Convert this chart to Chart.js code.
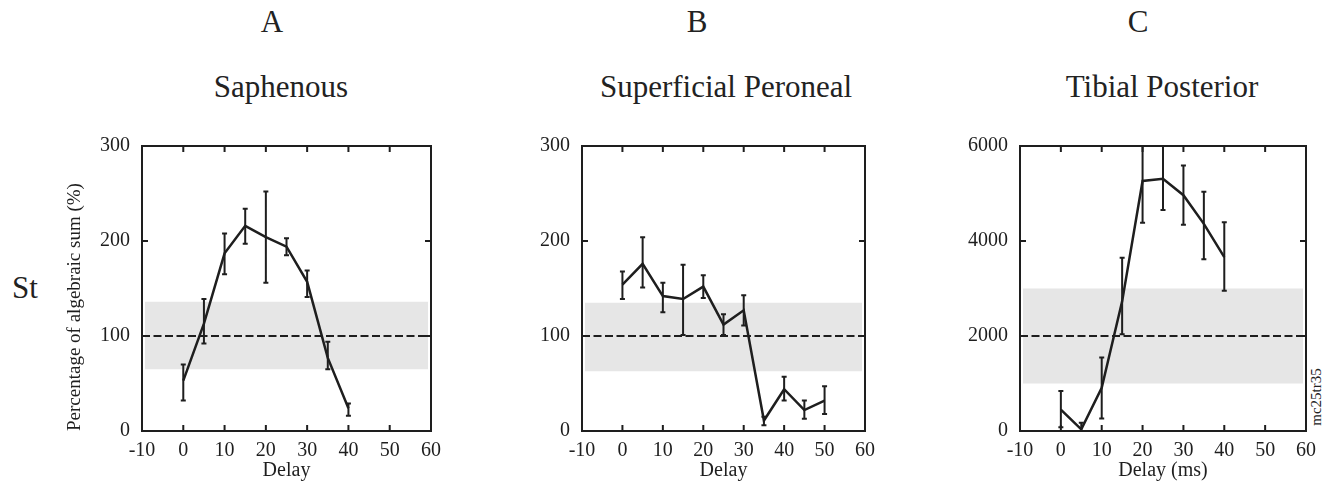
<!DOCTYPE html>
<html>
<head>
<meta charset="utf-8">
<script src="https://cdn.jsdelivr.net/npm/chart.js@4.4.1/dist/chart.umd.min.js"></script>
<style>
  body { margin: 0; background: #fff; }
  #page { position: relative; width: 1339px; height: 489px; overflow: hidden;
          font-family: "Liberation Serif", "Times New Roman", serif; color: #222; }
  canvas { position: absolute; top: 130px; }
  .lbl { position: absolute; font-size: 31px; line-height: 31px; white-space: nowrap; transform: translateX(-50%); }
  #tag { position: absolute; left: 1316px; top: 397px; font-size: 15px; line-height: 15px; white-space: nowrap;
         transform: translate(-50%, -50%) rotate(-90deg); }
</style>
</head>
<body>
<div id="page">
  <div class="lbl" style="left:272px; top:6px">A</div>
  <div class="lbl" style="left:697px; top:6px">B</div>
  <div class="lbl" style="left:1138px; top:6px">C</div>
  <div class="lbl" style="left:281px; top:71px">Saphenous</div>
  <div class="lbl" style="left:726px; top:71px">Superficial Peroneal</div>
  <div class="lbl" style="left:1162px; top:71px">Tibial Posterior</div>
  <div class="lbl" style="left:12px; top:272px; transform:none">St</div>
  <div id="tag">mc25tr35</div>

  <canvas id="chartA" width="400" height="359" style="left:60px"></canvas>
  <canvas id="chartB" width="400" height="359" style="left:500px"></canvas>
  <canvas id="chartC" width="401" height="359" style="left:938px"></canvas>
</div>

<script>
// delays (ms)
const delaysA = [0, 5, 10, 15, 20, 25, 30, 35, 40];
const delaysB = [0, 5, 10, 15, 20, 25, 30, 35, 40, 45, 50];
const delaysC = [0, 5, 10, 15, 20, 25, 30, 35, 40];

// A - Saphenous
const saphMean = [53, 113, 187, 216, 204, 194, 157, 77, 24];
const saphLow  = [32, 92, 165, 197, 156, 185, 141, 65, 16];
const saphHigh = [70, 139, 208, 234, 252, 203, 169, 94, 29];
const saphBand = [65, 136];

// B - Superficial Peroneal
const supMean = [154, 176, 142, 139, 152, 112, 127, 11, 44, 22, 32];
const supLow  = [139, 151, 125, 101, 140, 101, 111, 6, 32, 13, 18];
const supHigh = [168, 204, 156, 175, 164, 123, 143, 15, 57, 32, 47];
const supBand = [63, 135];

// C - Tibial Posterior
const tibMean = [452, 35, 910, 2729, 5264, 5312, 4965, 4361, 3660];
const tibLow  = [77, 0, 264, 2035, 4382, 4653, 4340, 3618, 2951];
const tibHigh = [840, 174, 1548, 3646, 6300, 6300, 5590, 5035, 4396];
const tibBand = [1000, 3000];

const bandSpan = [-9.3, 59.3];
const xTicks = [-10, 60, 10];

const INK = "#1e1e1e";
const FONT = "'Liberation Serif', 'Times New Roman', serif";

// error bars + box frame with inward ticks
const framePlugin = {
  id: "frame",
  afterDatasetsDraw(chart, args, opts) {
    const { ctx, chartArea: a, scales: { x, y } } = chart;

    ctx.save();
    ctx.beginPath();
    ctx.rect(a.left, a.top, a.width, a.height);
    ctx.clip();
    ctx.strokeStyle = INK;
    ctx.lineWidth = 2;
    ctx.beginPath();
    opts.delays.forEach((d, i) => {
      const px = x.getPixelForValue(d);
      const lo = y.getPixelForValue(opts.low[i]);
      const hi = y.getPixelForValue(opts.high[i]);
      ctx.moveTo(px, lo); ctx.lineTo(px, hi);
      ctx.moveTo(px - 2.5, lo); ctx.lineTo(px + 2.5, lo);
      ctx.moveTo(px - 2.5, hi); ctx.lineTo(px + 2.5, hi);
    });
    ctx.stroke();
    ctx.restore();

    ctx.save();
    ctx.strokeStyle = INK;
    ctx.lineWidth = 2;
    ctx.strokeRect(a.left, a.top, a.width, a.height);
    ctx.beginPath();
    x.ticks.forEach((t) => {
      if (t.value <= x.min || t.value >= x.max) return;
      const px = x.getPixelForValue(t.value);
      ctx.moveTo(px, a.bottom); ctx.lineTo(px, a.bottom - 6);
      ctx.moveTo(px, a.top); ctx.lineTo(px, a.top + 6);
    });
    y.ticks.forEach((t) => {
      if (t.value <= y.min || t.value >= y.max) return;
      const py = y.getPixelForValue(t.value);
      ctx.moveTo(a.left, py); ctx.lineTo(a.left + 6, py);
      ctx.moveTo(a.right, py); ctx.lineTo(a.right - 6, py);
    });
    ctx.stroke();
    ctx.restore();
  }
};

function makePanel(id, p) {
  const pts = p.delays.map((d, i) => ({ x: d, y: p.mean[i] }));
  const ref = bandSpan.map((v) => ({ x: v < 0 ? xTicks[0] : xTicks[1], y: p.refLine }));
  const band = bandSpan.map((v) => ({ x: v, y: p.band[1] }));

  new Chart(document.getElementById(id), {
    type: "line",
    data: {
      datasets: [
        { data: pts, borderColor: INK, borderWidth: 2.5, pointRadius: 0, tension: 0 },
        { data: ref, borderColor: INK, borderWidth: 2, borderDash: [8, 3.5], pointRadius: 0 },
        { data: band, borderWidth: 0, pointRadius: 0, backgroundColor: "#e6e6e6",
          fill: { value: p.band[0] } }
      ]
    },
    options: {
      responsive: false,
      animation: false,
      layout: { padding: { left: 0, right: p.rightPad, top: 13, bottom: 0 } },
      plugins: {
        legend: { display: false },
        tooltip: { enabled: false },
        frame: { delays: p.delays, low: p.low, high: p.high }
      },
      scales: {
        x: {
          type: "linear",
          min: xTicks[0], max: xTicks[1],
          grid: { display: false },
          border: { display: false },
          ticks: { stepSize: xTicks[2], padding: 0, color: INK, font: { family: FONT, size: 20 } },
          title: { display: true, text: p.xTitle, color: INK, padding: { top: 0, bottom: 6 },
                   font: { family: FONT, size: 20 } },
          afterFit: (s) => { s.height = 58; }
        },
        y: {
          min: 0, max: p.yMax,
          grid: { display: false },
          border: { display: false },
          ticks: { stepSize: p.yMax / 3, padding: 4, color: INK, font: { family: FONT, size: 20 },
                   callback: (v) => String(v) },
          title: { display: !!p.yTitle, text: p.yTitle, align: "start", color: INK,
                   padding: { top: 4, bottom: 4 }, font: { family: FONT, size: 19 } },
          afterFit: (s) => { s.width = 82; }
        }
      }
    },
    plugins: [framePlugin]
  });
}

makePanel("chartA", {
  delays: delaysA, mean: saphMean, low: saphLow, high: saphHigh, band: saphBand,
  refLine: 100, yMax: 300, rightPad: 29, xTitle: "Delay",
  yTitle: "Percentage of algebraic sum (%)"
});
makePanel("chartB", {
  delays: delaysB, mean: supMean, low: supLow, high: supHigh, band: supBand,
  refLine: 100, yMax: 300, rightPad: 35, xTitle: "Delay"
});
makePanel("chartC", {
  delays: delaysC, mean: tibMean, low: tibLow, high: tibHigh, band: tibBand,
  refLine: 2000, yMax: 6000, rightPad: 33, xTitle: "Delay (ms)"
});
</script>
</body>
</html>
